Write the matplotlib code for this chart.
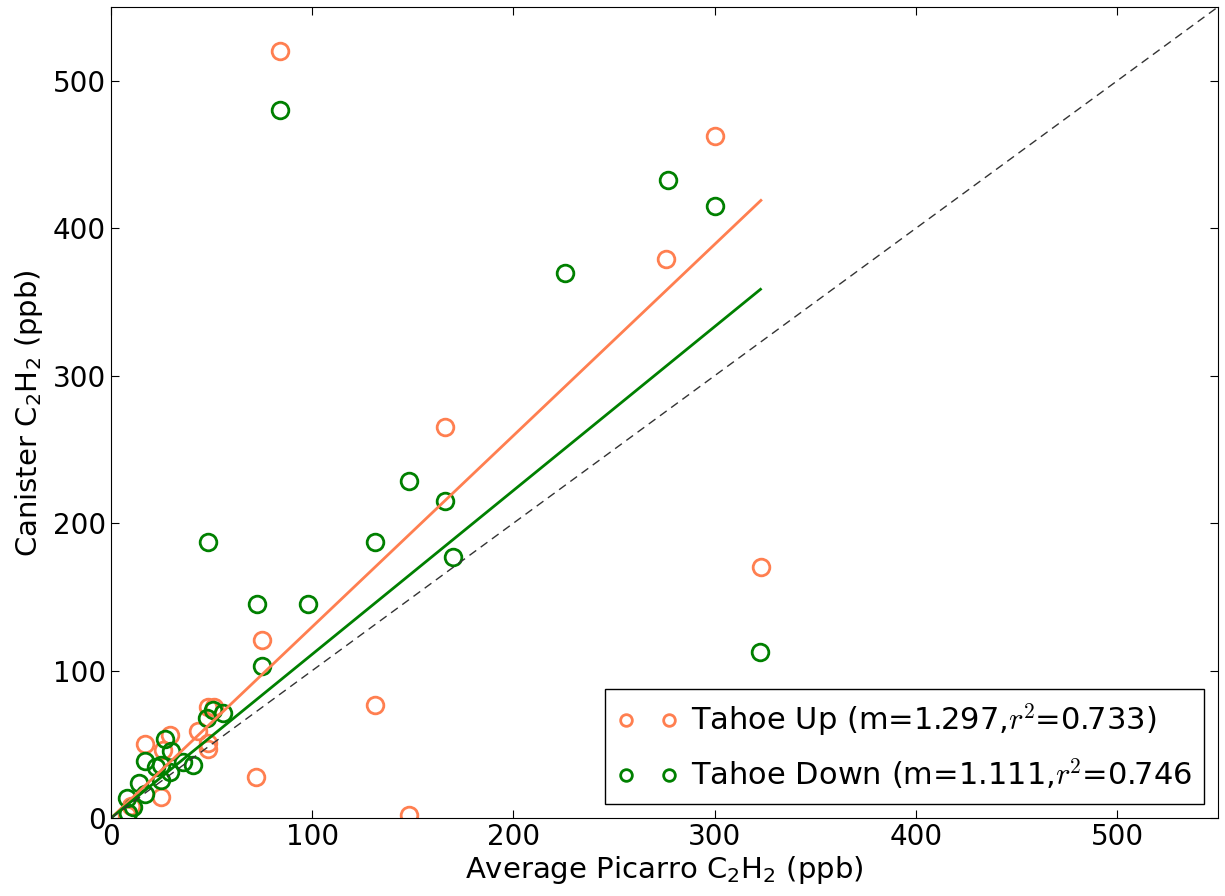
import matplotlib
matplotlib.use("Agg")
import matplotlib.pyplot as plt
import numpy as np

plt.rcParams['mathtext.fontset'] = 'cm'
plt.rcParams['mathtext.default'] = 'regular'

# Tahoe Up (orange)
up_x = [84.2, 300.0, 276.0, 166.0, 323.0, 75.0, 131.0, 72.0, 148.0,
        16.8, 29.5, 43.2, 48.2, 51.0, 48.2, 48.0, 25.9, 24.8, 7.8, 10.0]
up_y = [520.0, 462.7, 379.0, 265.0, 170.0, 121.0, 77.0, 28.0, 2.0,
        50.0, 56.3, 59.0, 75.5, 75.5, 47.0, 51.0, 46.0, 14.5, 2.0, 8.0]

# Tahoe Down (green)
down_x = [84.2, 276.7, 300.0, 225.7, 148.0, 166.0, 131.0, 170.0, 48.0, 72.6,
          98.0, 322.8, 75.0, 50.6, 55.6, 47.6, 26.7, 30.0, 17.1, 25.0,
          22.6, 35.8, 40.8, 29.2, 25.0, 14.0, 17.1, 7.8, 11.0, 8.6]
down_y = [480.0, 433.0, 415.0, 370.0, 228.6, 215.0, 187.0, 177.0, 187.0, 145.0,
          145.0, 112.6, 103.0, 73.6, 71.4, 68.0, 53.4, 45.5, 38.7, 36.0,
          34.8, 38.2, 36.3, 31.4, 25.8, 23.5, 16.6, 13.7, 7.7, 3.2]

up_slope = 1.297
down_slope = 1.111
up_r2 = 0.733
down_r2 = 0.746

up_color = '#FF7F50'
down_color = '#008000'

fig = plt.figure(figsize=(12.25, 8.96), dpi=100)
ax = fig.add_axes([0.0906, 0.087, 0.9034, 0.905])

ax.plot(up_x, up_y, 'o', mfc='none', mec=up_color, mew=2, ms=12,
        label=r'Tahoe Up (m=%.3f,$\mathit{r}^{\mathrm{2}}$=%.3f)' % (up_slope, up_r2))
ax.plot(down_x, down_y, 'o', mfc='none', mec=down_color, mew=2, ms=12,
        label=r'Tahoe Down (m=%.3f,$\mathit{r}^{\mathrm{2}}$=%.3f' % (down_slope, down_r2))

xfit = np.array([0, max(up_x)])
ax.plot(xfit, up_slope * xfit, '-', color=up_color, lw=2)
xfit = np.array([0, max(down_x)])
ax.plot(xfit, down_slope * xfit, '-', color=down_color, lw=2)

ax.plot([0, 550], [0, 550], '--', color='#333333', lw=1, dashes=(6, 4))

ax.set_xlim(0, 550)
ax.set_ylim(0, 550)
ax.set_xticks([0, 100, 200, 300, 400, 500])
ax.set_yticks([0, 100, 200, 300, 400, 500])
ax.tick_params(direction='in', top=True, right=True, labelsize=20, length=6)
ax.set_xlabel('Average Picarro C$_2$H$_2$ (ppb)', fontsize=21, labelpad=2)
ax.set_ylabel('Canister C$_2$H$_2$ (ppb)', fontsize=21, labelpad=6)

leg = ax.legend(loc='lower right', numpoints=2, fontsize=22, fancybox=False,
                edgecolor='black', framealpha=1, handlelength=2.0,
                handletextpad=0.4, labelspacing=0.6, markerscale=0.7,
                borderaxespad=0.45)
leg.get_frame().set_linewidth(1)

fig.savefig('out.png', dpi=100)
